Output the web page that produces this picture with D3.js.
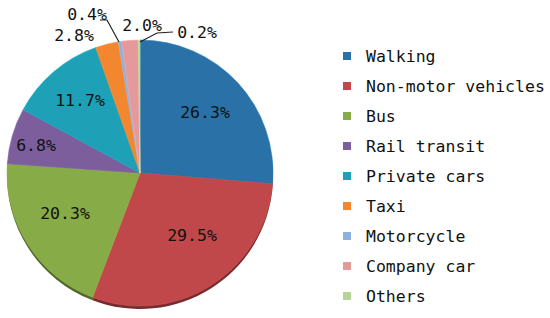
<!DOCTYPE html>
<html>
<head>
<meta charset="utf-8">
<script src="https://cdn.jsdelivr.net/npm/d3@7"></script>
<style>
  body { margin: 0; background: #fff; }
  text { font-family: "DejaVu Sans Mono", monospace; fill: #111; }
</style>
</head>
<body>
<div id="chart"></div>
<script>
// Data
const categories = ['Walking', 'Non-motor vehicles', 'Bus', 'Rail transit', 'Private cars', 'Taxi', 'Motorcycle', 'Company car', 'Others']
const shares = [26.3, 29.5, 20.3, 6.8, 11.7, 2.8, 0.4, 2.0, 0.2]
const colors = ['#2a71a8', '#c0484b', '#86ab47', '#7d5e9d', '#1ea1b6', '#f2872f', '#8db0dc', '#e4999b', '#b6d494']

// Dimensions
const dimensions = { width: 550, height: 318 }
const center = { x: 140, y: 173 }
const radius = 133

const svg = d3.select('#chart')
  .append('svg')
  .attr('width', dimensions.width)
  .attr('height', dimensions.height)

const data = categories.map((c, i) => ({ name: c, value: shares[i], color: colors[i] }))

const pie = d3.pie().sort(null).value(d => d.value)
const arcs = pie(data)
const arc = d3.arc().innerRadius(0).outerRadius(radius)

const container = svg.append('g')
  .attr('transform', `translate(${center.x}, ${center.y})`)

// thin 3d edge under the pie
container.append('g')
  .attr('transform', 'translate(0, 3)')
  .selectAll('path')
  .data(arcs)
  .join('path')
  .attr('d', arc)
  .attr('fill', d => d3.color(d.data.color).darker(1.4))

container.append('g')
  .selectAll('path')
  .data(arcs)
  .join('path')
  .attr('d', arc)
  .attr('fill', d => d.data.color)
  .attr('stroke', d => d3.color(d.data.color).brighter(0.3))
  .attr('stroke-width', 0.6)

// labels inside the big slices
const insideLabels = [
  { i: 0, dx: 65, dy: -61 },
  { i: 1, dx: 52, dy: 62 },
  { i: 2, dx: -75, dy: 40 },
  { i: 3, dx: -104, dy: -28 },
  { i: 4, dx: -60, dy: -73 }
]
container.append('g')
  .selectAll('text')
  .data(insideLabels)
  .join('text')
  .attr('x', d => d.dx)
  .attr('y', d => d.dy)
  .attr('text-anchor', 'middle')
  .attr('dominant-baseline', 'central')
  .attr('font-size', 16.5)
  .text(d => shares[d.i].toFixed(1) + '%')

// labels outside the small slices
const outsideLabels = [
  { i: 5, dx: -66, dy: -138, line: null },
  { i: 6, dx: -53, dy: -159, line: [[-40, -153], [-33, -153], [-21, -131]] },
  { i: 7, dx: 2, dy: -148, line: null },
  { i: 8, dx: 57, dy: -141, line: [[0, -131], [17, -140], [33, -141]] }
]
const outer = container.append('g')
outer.selectAll('path')
  .data(outsideLabels.filter(d => d.line))
  .join('path')
  .attr('d', d => d3.line()(d.line))
  .attr('fill', 'none')
  .attr('stroke', '#222')
  .attr('stroke-width', 1.2)
outer.selectAll('text')
  .data(outsideLabels)
  .join('text')
  .attr('x', d => d.dx)
  .attr('y', d => d.dy)
  .attr('text-anchor', 'middle')
  .attr('dominant-baseline', 'central')
  .attr('font-size', 16.5)
  .text(d => shares[d.i].toFixed(1) + '%')

// Legend
const legendY = d3.scalePoint()
  .domain(categories)
  .range([56, 296])

const legend = svg.append('g')
const rows = legend.selectAll('g')
  .data(data)
  .join('g')
  .attr('transform', d => `translate(343, ${legendY(d.name)})`)

rows.append('rect')
  .attr('x', 0)
  .attr('y', -4)
  .attr('width', 8)
  .attr('height', 8)
  .attr('fill', d => d.color)

rows.append('text')
  .attr('x', 23)
  .attr('y', 0)
  .attr('dominant-baseline', 'central')
  .attr('font-size', 16.5)
  .text(d => d.name)
</script>
</body>
</html>
